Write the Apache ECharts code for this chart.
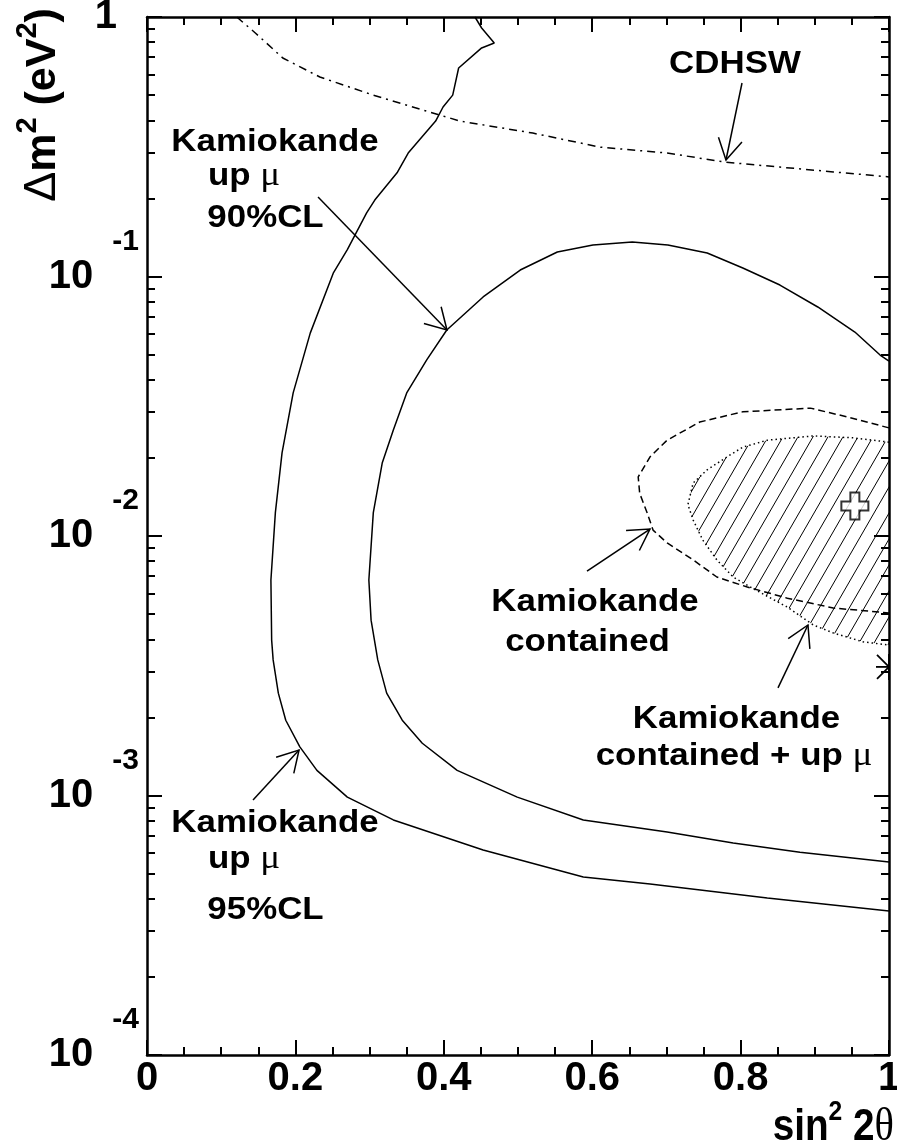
<!DOCTYPE html>
<html>
<head>
<meta charset="utf-8">
<script src="https://cdn.jsdelivr.net/npm/echarts@6/dist/echarts.min.js"></script>
<style>
html,body{margin:0;padding:0;background:#fff;}
#chart{width:897px;height:1147px;}
</style>
</head>
<body>
<div id="chart"></div>
<script>
// ---------------- data (x = sin^2 2theta, y = delta m^2 in eV^2) ----------------
const upMu95 = [[0.442,1.0],[0.451,0.907],[0.468,0.794],[0.451,0.760],[0.420,0.636],[0.412,0.500],[0.399,0.450],[0.389,0.397],[0.367,0.336],[0.352,0.299],[0.337,0.251],[0.307,0.197],[0.296,0.176],[0.270,0.127],[0.251,0.103],[0.220,0.0605],[0.197,0.0356],[0.182,0.0209],[0.173,0.0123],[0.167,0.00677],[0.168,0.00397],[0.170,0.00333],[0.177,0.00248],[0.187,0.00195],[0.206,0.00154],[0.229,0.00125],[0.270,0.000986],[0.332,0.000805],[0.453,0.000617],[0.588,0.000485],[0.678,0.000456],[0.836,0.000403],[1.0,0.000359]];
const upMu90 = [[1.0,0.0472],[0.988,0.0498],[0.954,0.0611],[0.904,0.0763],[0.853,0.0927],[0.803,0.1078],[0.755,0.1232],[0.702,0.1322],[0.654,0.1358],[0.601,0.1322],[0.553,0.1243],[0.503,0.1059],[0.453,0.0834],[0.404,0.0622],[0.377,0.0477],[0.350,0.0356],[0.332,0.0256],[0.317,0.0191],[0.305,0.0123],[0.299,0.00677],[0.302,0.00474],[0.311,0.00333],[0.323,0.00248],[0.344,0.00195],[0.371,0.00159],[0.418,0.00125],[0.499,0.000986],[0.588,0.000805],[0.701,0.000723],[0.790,0.000656],[0.880,0.000605],[1.0,0.000554]];
const cdhsw = [[0.121,1.0],[0.146,0.868],[0.183,0.695],[0.233,0.587],[0.305,0.500],[0.372,0.438],[0.422,0.397],[0.520,0.357],[0.611,0.315],[0.701,0.299],[0.779,0.276],[0.853,0.264],[0.925,0.253],[1.0,0.242]];
const contained = [[1.0,0.0261],[0.943,0.0288],[0.894,0.0311],[0.803,0.0301],[0.745,0.0275],[0.701,0.0234],[0.678,0.0202],[0.662,0.0169],[0.664,0.0146],[0.674,0.0123],[0.682,0.01054],[0.701,0.00940],[0.736,0.00809],[0.768,0.00695],[0.809,0.00636],[0.863,0.00576],[0.925,0.00528],[1.0,0.00505]];
const combined = [[1.0,0.0230],[0.951,0.0239],[0.898,0.0243],[0.836,0.0234],[0.803,0.0220],[0.782,0.0202],[0.755,0.0180],[0.736,0.0160],[0.729,0.0132],[0.736,0.01153],[0.749,0.00965],[0.768,0.00809],[0.790,0.00695],[0.813,0.00636],[0.863,0.00532],[0.898,0.00454],[0.925,0.00423],[0.965,0.00391],[1.0,0.00380]];
const bestFit = [[0.954,0.01305]];
const starPoint = [[1.0,0.00313]];
// arrows: [x_from, y_from, x_tip, y_tip]
const arrows = [[0.2305,0.2025,0.4043,0.0622],[0.8019,0.5568,0.7803,0.2812],[0.1429,0.000961,0.2049,0.001497],[0.593,0.00733,0.6779,0.01064],[0.8504,0.002597,0.8908,0.00454]];

// tick labels
const xTickValues = [0,0.2,0.4,0.6,0.8,1];
const xTickLabels = ['0','0.2','0.4','0.6','0.8','1'];
const yTickValues = [1e-4,1e-3,1e-2,1e-1,1];
const yTickBase = ['10','10','10','10','1'];
const yTickExp = ['-4','-3','-2','-1',''];
const yMinorValues = [];
[1e-4,1e-3,1e-2,1e-1].forEach(function(d){ for (let m=2;m<=9;m++) yMinorValues.push(+(d*m).toPrecision(3)); });

// annotation texts
const notes = [
  {t:'{a|Kamiokande}', x:275, b:153},
  {t:'{a|up }{m|μ}', x:244, b:187},
  {t:'{a|90%CL}', x:265.5, b:229},
  {t:'{a|CDHSW}', x:735, b:75},
  {t:'{a|Kamiokande}', x:595, b:613},
  {t:'{a|contained}', x:587.5, b:653},
  {t:'{a|Kamiokande}', x:736.5, b:730},
  {t:'{a|contained + up }{m|μ}', x:734, b:767},
  {t:'{a|Kamiokande}', x:275, b:834},
  {t:'{a|up }{m|μ}', x:244, b:870},
  {t:'{a|95%CL}', x:265.5, b:921}
];

const FONT = 'Liberation Sans, Arial, Helvetica, sans-serif';
const SERIF = 'Liberation Serif, Times New Roman, serif';
const NFS = 32;

function hatchPattern(){
  const c = document.createElement('canvas');
  c.width = 15; c.height = 26;
  const g = c.getContext('2d');
  g.strokeStyle = '#000'; g.lineWidth = 1;
  g.beginPath();
  [-1,0,1].forEach(function(k){ g.moveTo(k*15,26); g.lineTo(k*15+15,0); });
  g.stroke();
  return c;
}
const pattern = {image: hatchPattern(), repeat: 'repeat'};

const chart = echarts.init(document.getElementById('chart'), null, {renderer:'canvas'});

function xAxisCfg(pos, showLabel){
  return {
    type:'value', min:0, max:1, interval:0.2, position:pos,
    axisLine:{show:true, onZero:false, lineStyle:{color:'#000', width:2.5}},
    axisTick:{show:true, inside:true, length:15, lineStyle:{color:'#000', width:2}},
    minorTick:{show:true, splitNumber:4, length:8, lineStyle:{color:'#000', width:2}},
    splitLine:{show:false}, minorSplitLine:{show:false},
    axisLabel:{show:showLabel, margin:4, color:'#000', fontSize:40, fontWeight:'bold', fontFamily:FONT,
      showMinLabel:true, showMaxLabel:true,
      formatter:function(v){ const i = xTickValues.findIndex(function(t){return Math.abs(t-v)<1e-9;}); return i>=0 ? xTickLabels[i] : ''; }}
  };
}
function yAxisCfg(pos, major, showLine, showLabel){
  return {
    type:'log', logBase:10, min:1e-4, max:1, position:pos,
    axisLine:{show:showLine, onZero:false, lineStyle:{color:'#000', width:2.5}},
    axisTick:{show:true, inside:true, length: major?15:8, customValues: major?yTickValues:yMinorValues, lineStyle:{color:'#000', width:2}},
    minorTick:{show:false},
    splitLine:{show:false},
    axisLabel:{show:showLabel, margin:8, color:'#000', showMinLabel:true, showMaxLabel:true,
      customValues: yTickValues,
      formatter:function(v){
        const i = yTickValues.findIndex(function(t){return Math.abs(Math.log10(t)-Math.log10(v))<1e-6;});
        if (i<0) return '';
        if (yTickExp[i]==='') return '{one|'+yTickBase[i]+'}';
        return '{b|'+yTickBase[i]+'}{e|'+yTickExp[i]+'}';
      },
      rich:{
        one:{fontSize:40, fontWeight:'bold', fontFamily:FONT, color:'#000', lineHeight:40, padding:[0,22,0,0]},
        b:{fontSize:40, fontWeight:'bold', fontFamily:FONT, color:'#000', lineHeight:40},
        e:{fontSize:30, fontWeight:'bold', fontFamily:FONT, color:'#000', lineHeight:30, padding:[0,0,70,19]}
      }
    }
  };
}

const graphics = notes.map(function(n){
  return {type:'text', x:n.x, y:n.b - 0.33*NFS, scaleX:1.09, z:10,
    style:{text:n.t, align:'center', verticalAlign:'middle', fill:'#000',
      rich:{a:{fontSize:NFS, fontWeight:'bold', fontFamily:FONT, fill:'#000', lineHeight:36},
            m:{fontSize:NFS+2, fontWeight:'normal', fontFamily:SERIF, fill:'#000', lineHeight:36}}}};
});
// axis titles
graphics.push({type:'text', x:894, y:1142-0.33*44, scaleX:0.88, z:10,
  style:{text:'{b|sin}{s|2}{b| 2}{t|θ}', align:'right', verticalAlign:'middle', fill:'#000',
    rich:{b:{fontSize:44, fontWeight:'bold', fontFamily:FONT, fill:'#000', lineHeight:46},
          s:{fontSize:28, fontWeight:'bold', fontFamily:FONT, fill:'#000', lineHeight:28, padding:[0,0,30,0]},
          t:{fontSize:46, fontWeight:'normal', fontFamily:SERIF, fill:'#000', lineHeight:46}}}});
graphics.push({type:'text', x:43, y:105, rotation:Math.PI/2, z:10,
  style:{text:'{d|Δ}{b|m}{s|2}{b| (eV}{s|2}{b|)}', align:'center', verticalAlign:'middle', fill:'#000',
    rich:{b:{fontSize:43, fontWeight:'bold', fontFamily:FONT, fill:'#000', lineHeight:46},
          d:{fontSize:45, fontWeight:'normal', fontFamily:FONT, fill:'#000', lineHeight:46},
          s:{fontSize:29, fontWeight:'bold', fontFamily:FONT, fill:'#000', lineHeight:29, padding:[0,0,30,0]}}}});

function lineSeries(name, data, type){
  return {name:name, type:'line', data:data, xAxisIndex:0, yAxisIndex:0, symbol:'none', showSymbol:false,
    silent:true, z:3, lineStyle:{color:'#000', width:1.5, type:type}};
}

const option = {
  animation:false,
  backgroundColor:'#fff',
  grid:{left:147, right:8, top:17, bottom:92, containLabel:false, outerBoundsMode:'none'},
  xAxis:[xAxisCfg('bottom', true), xAxisCfg('top', false)],
  yAxis:[yAxisCfg('left', true, true, true), yAxisCfg('left', false, false, false), yAxisCfg('right', true, true, false), yAxisCfg('right', false, false, false)],
  graphic: graphics,
  series:[
    {name:'hatch', type:'custom', data:combined, xAxisIndex:0, yAxisIndex:0, z:1, silent:true,
      renderItem:function(params, api){
        if (params.dataIndex !== 0) return null;
        const pts = combined.map(function(p){ return api.coord(p); });
        return {type:'polygon', shape:{points:pts}, style:{fill:pattern, stroke:null}};
      }},
    lineSeries('Kamiokande up mu 95%CL', upMu95, 'solid'),
    lineSeries('Kamiokande up mu 90%CL', upMu90, 'solid'),
    lineSeries('CDHSW', cdhsw, [8,5,2,5]),
    lineSeries('Kamiokande contained', contained, [7,4]),
    lineSeries('Kamiokande contained + up mu', combined, [1.5,3]),
    {name:'best fit', type:'scatter', data:bestFit, xAxisIndex:0, yAxisIndex:0, z:6, silent:true,
      symbol:'path://M10,0 H20 V10 H30 V20 H20 V30 H10 V20 H0 V10 H10 Z', symbolSize:27,
      itemStyle:{color:'#fff', borderColor:'#000', borderWidth:2}},
    {name:'star', type:'custom', data:starPoint, xAxisIndex:0, yAxisIndex:0, z:6, silent:true,
      renderItem:function(params, api){
        const p = api.coord([api.value(0), api.value(1)]);
        const st = {stroke:'#000', lineWidth:1.8};
        return {type:'group', children:[
          {type:'line', shape:{x1:p[0]-13,y1:p[1],x2:p[0],y2:p[1]}, style:st},
          {type:'line', shape:{x1:p[0],y1:p[1]-13,x2:p[0],y2:p[1]+13}, style:st},
          {type:'line', shape:{x1:p[0]-12,y1:p[1]-12,x2:p[0],y2:p[1]}, style:st},
          {type:'line', shape:{x1:p[0]-12,y1:p[1]+12,x2:p[0],y2:p[1]}, style:st}
        ]};
      }},
    {name:'arrows', type:'custom', data:arrows, xAxisIndex:0, yAxisIndex:0, z:7, silent:true,
      encode:{x:0, y:1},
      renderItem:function(params, api){
        const a = api.coord([api.value(0), api.value(1)]);
        const b = api.coord([api.value(2), api.value(3)]);
        const ang = Math.atan2(a[1]-b[1], a[0]-b[0]);
        const L = 24, t = Math.PI/6;
        const h1 = [b[0]+L*Math.cos(ang+t), b[1]+L*Math.sin(ang+t)];
        const h2 = [b[0]+L*Math.cos(ang-t), b[1]+L*Math.sin(ang-t)];
        const st = {stroke:'#000', lineWidth:1.5, fill:null};
        return {type:'group', children:[
          {type:'line', shape:{x1:a[0],y1:a[1],x2:b[0],y2:b[1]}, style:st},
          {type:'polyline', shape:{points:[h1,b,h2]}, style:st}
        ]};
      }}
  ]
};
chart.setOption(option);
</script>
</body>
</html>
